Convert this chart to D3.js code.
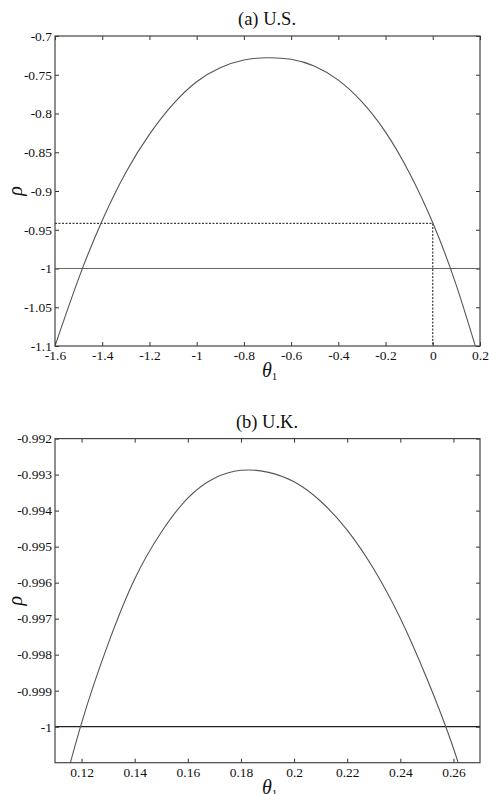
<!DOCTYPE html>
<html>
<head>
    <meta charset="UTF-8">
    <title>rho vs theta1</title>
    <script src="https://cdn.jsdelivr.net/npm/d3@7"></script>
    <style>
        body { margin: 0; background: #fff; }
        svg text { font-family: "Liberation Serif", "DejaVu Serif", serif; fill: #111; }
        .tick line { stroke: #333; }
        .domain { display: none; }
    </style>
</head>
<body>
<svg id="chart" width="489" height="794"></svg>
<script>

// (a) U.S. curve, every 0.1
const usTheta = [-1.6, -1.5, -1.4, -1.3, -1.2, -1.1, -1.0, -0.9, -0.8, -0.7,
                 -0.6, -0.5, -0.4, -0.3, -0.2, -0.1, 0.0, 0.1, 0.2];
const usRho   = [-1.100, -1.013, -0.938, -0.876, -0.827, -0.788, -0.759, -0.741, -0.731, -0.728,
                 -0.730, -0.739, -0.757, -0.785, -0.824, -0.876, -0.941, -1.022, -1.120];
const usXTicks = [-1.6, -1.4, -1.2, -1, -0.8, -0.6, -0.4, -0.2, 0, 0.2];
const usYTicks = [-0.7, -0.75, -0.8, -0.85, -0.9, -0.95, -1, -1.05, -1.1];
const usMark = {theta: 0, rho: -0.9417};   // dashed guide point

// (b) U.K. curve, read every 0.01
const ukTheta = [0.11, 0.12, 0.13, 0.14, 0.15, 0.16, 0.17, 0.18, 0.19, 0.20,
                 0.21, 0.22, 0.23, 0.24, 0.25, 0.26, 0.27];
const ukRho   = [-1.0026, -0.9999, -0.9977, -0.9959, -0.9946, -0.99365, -0.9931, -0.99288, -0.99293, -0.9932,
                 -0.99374, -0.99454, -0.99562, -0.99699, -0.99866, -1.0006, -1.0030];
const ukXTicks = [0.12, 0.14, 0.16, 0.18, 0.2, 0.22, 0.24, 0.26];
const ukYTicks = [-0.992, -0.993, -0.994, -0.995, -0.996, -0.997, -0.998, -0.999, -1];

const svg = d3.select("#chart");
const fmt = d => String(+d.toFixed(3));
const serif = '"Liberation Serif", "DejaVu Serif", serif';

function panel(opts) {
    const x = d3.scaleLinear().domain(opts.xDomain).range([55, 480]);
    const y = d3.scaleLinear().domain(opts.yDomain).range([opts.bottom, opts.top]);
    const g = svg.append("g");

    // axes: ticks point inward on all four sides
    g.append("g").attr("transform", `translate(0,${opts.bottom})`)
        .call(d3.axisBottom(x).tickValues(opts.xTicks).tickFormat(fmt).tickSizeInner(-4).tickSizeOuter(0).tickPadding(4))
        .attr("font-family", serif)
        .selectAll("text").attr("font-size", 13.5).attr("dy", "0.75em");
    g.append("g").attr("transform", `translate(0,${opts.top})`)
        .call(d3.axisTop(x).tickValues(opts.xTicks).tickFormat("").tickSizeInner(-4).tickSizeOuter(0));
    g.append("g").attr("transform", "translate(55,0)")
        .call(d3.axisLeft(y).tickValues(opts.yTicks).tickFormat(fmt).tickSizeInner(-4).tickSizeOuter(0).tickPadding(3))
        .attr("font-family", serif)
        .selectAll("text").attr("font-size", 13.5);
    g.append("g").attr("transform", "translate(480,0)")
        .call(d3.axisRight(y).tickValues(opts.yTicks).tickFormat("").tickSizeInner(-4).tickSizeOuter(0));

    const clipId = "clip" + Math.round(opts.top);
    g.append("clipPath").attr("id", clipId).append("rect")
        .attr("x", 55).attr("y", opts.top).attr("width", 425).attr("height", opts.bottom - opts.top);
    const plot = g.append("g").attr("clip-path", `url(#${clipId})`);

    // rho = -1 reference line
    plot.append("line")
        .attr("x1", x(opts.xDomain[0])).attr("x2", x(opts.xDomain[1]))
        .attr("y1", y(-1)).attr("y2", y(-1))
        .attr("stroke", opts.refColor).attr("stroke-width", 1.2);

    if (opts.mark) {
        plot.append("path")
            .attr("d", d3.line()([[x(opts.xDomain[0]), y(opts.mark.rho)], [x(opts.mark.theta), y(opts.mark.rho)],
                                  [x(opts.mark.theta), y(opts.yDomain[0])]]))
            .attr("fill", "none").attr("stroke", "#111").attr("stroke-width", 1)
            .attr("stroke-dasharray", "2,1.5");
    }

    const pts = opts.theta.map((t, i) => [t, opts.rho[i]]);
    plot.append("path").datum(pts)
        .attr("d", d3.line().x(d => x(d[0])).y(d => y(d[1])).curve(d3.curveNatural))
        .attr("fill", "none").attr("stroke", "#555").attr("stroke-width", 1.1);

    // frame
    g.append("rect").attr("x", 55).attr("y", opts.top)
        .attr("width", 425).attr("height", opts.bottom - opts.top)
        .attr("fill", "none").attr("stroke", "#444").attr("stroke-width", 1.2);

    // title
    g.append("text").attr("x", 267).attr("y", opts.top - 11)
        .attr("text-anchor", "middle").attr("font-size", 18.5).text(opts.title);

    // x label theta_1
    const xl = g.append("text").attr("x", 262).attr("y", opts.bottom + 31)
        .attr("font-size", 20).attr("font-style", "italic");
    xl.append("tspan").text("θ");
    xl.append("tspan").attr("font-size", 11).attr("font-style", "normal").attr("dy", 3).text("1");

    // y label rho
    g.append("text")
        .attr("transform", `translate(22,${(opts.top + opts.bottom) / 2}) rotate(-90)`)
        .attr("text-anchor", "middle").attr("font-size", 20).attr("font-style", "italic").text("ρ");
}

panel({
    title: "(a) U.S.", top: 36, bottom: 346,
    xDomain: [-1.6, 0.2], yDomain: [-1.1, -0.7],
    xTicks: usXTicks, yTicks: usYTicks,
    theta: usTheta, rho: usRho, mark: usMark, refColor: "#666"
});

panel({
    title: "(b) U.K.", top: 438.6, bottom: 762.7,
    xDomain: [0.11, 0.27], yDomain: [-1.001, -0.992],
    xTicks: ukXTicks, yTicks: ukYTicks,
    theta: ukTheta, rho: ukRho, refColor: "#222"
});

</script>
</body>
</html>
